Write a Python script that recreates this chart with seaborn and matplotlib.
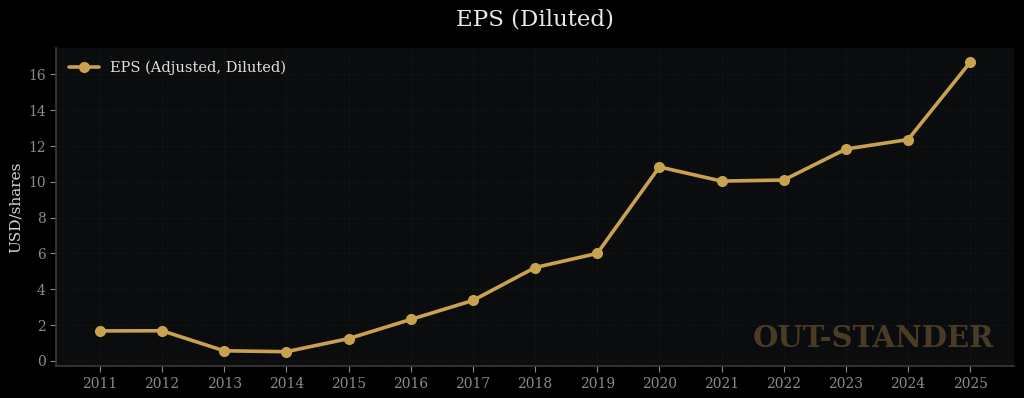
import pandas as pd
import matplotlib.pyplot as plt
import seaborn as sns

# Dados
anos = [2011, 2012, 2013, 2014, 2015, 2016, 2017, 2018, 2019, 2020, 2021, 2022, 2023, 2024, 2025]
eps = [1.67, 1.68, 0.56, 0.51, 1.24, 2.31, 3.37, 5.21, 6.0, 10.83, 10.04, 10.1, 11.83, 12.36, 16.68]
serie = "EPS (Adjusted, Diluted)"

df = pd.DataFrame({"ano": anos, "eps": eps, "serie": serie})

sns.set_theme(style="dark")
plt.rcParams["font.family"] = ["DejaVu Serif"]

fig, ax = plt.subplots(figsize=(10.24, 3.98), dpi=100)
fig.patch.set_facecolor("#000000")
ax.set_facecolor("#0b0c0e")

sns.lineplot(data=df, x="ano", y="eps", hue="serie", palette=["#c9a24f"],
             marker="o", markersize=8, markeredgewidth=0, linewidth=2.6, ax=ax)

ax.set_xticks(anos)
ax.set_xticklabels([str(a) for a in anos])
ax.grid(True, color="#1c1e21", linewidth=0.6, linestyle=":")
ax.tick_params(axis="both", colors="#8a8a8a", labelsize=10, length=4, width=0.8,
               bottom=True, left=True)
for lado in ["top", "right"]:
    ax.spines[lado].set_visible(False)
for lado in ["left", "bottom"]:
    ax.spines[lado].set_color("#3a3a3a")
    ax.spines[lado].set_linewidth(1.2)

ax.set_xlabel("")
ax.set_ylabel("USD/shares", color="#d8d8d8", fontsize=11)
ax.set_title("EPS (Diluted)", color="#e8e8e8", fontsize=16.5, pad=16)

leg = ax.legend(loc="upper left", frameon=False, fontsize=10.5)
for t in leg.get_texts():
    t.set_color("#e0e0e0")

# marca d'água
ax.text(0.979, 0.04, "OUT-STANDER", transform=ax.transAxes, ha="right", va="bottom",
        fontsize=21, fontweight="bold", color="#4a3c24")

plt.subplots_adjust(left=0.055, right=0.99, top=0.88, bottom=0.08)
plt.savefig("out.png", dpi=100, facecolor=fig.get_facecolor())
